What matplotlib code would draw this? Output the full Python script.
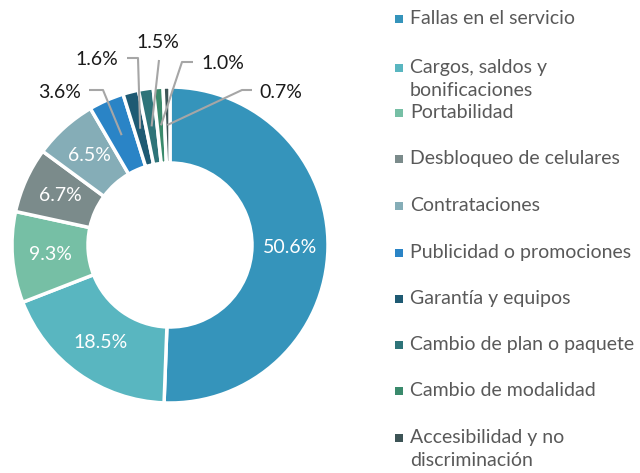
import matplotlib.pyplot as plt
import numpy as np

plt.rcParams['font.family'] = ['Lato', 'DejaVu Sans']

categories = ["Fallas en el servicio", "Cargos, saldos y\nbonificaciones", "Portabilidad",
              "Desbloqueo de celulares", "Contrataciones", "Publicidad o promociones",
              "Garantía y equipos", "Cambio de plan o paquete", "Cambio de modalidad",
              "Accesibilidad y no\ndiscriminación"]
values = [50.6, 18.5, 9.3, 6.7, 6.5, 3.6, 1.6, 1.5, 1.0, 0.7]
colors = ["#3594bb", "#59b6c0", "#76bfa5", "#7b8b8b", "#85adb7",
          "#2a84c6", "#1e5a73", "#2e7479", "#3a8a6c", "#3d5456"]

W, H = 640, 473
fig = plt.figure(figsize=(W / 100, H / 100), dpi=100)
ax = fig.add_axes([0, 0, 1, 1])


def py(y):  # pixel row -> data y
    return H - y


cx, cy = 170, py(245)
r_out, r_in = 158, 82

wedges, _ = ax.pie(values, colors=colors, startangle=90, counterclock=False,
                   radius=r_out, center=(cx, cy),
                   wedgeprops=dict(width=r_out - r_in, edgecolor="white", linewidth=2.5))

ax.set_xlim(0, W)
ax.set_ylim(0, H)
ax.set_aspect("equal")
ax.axis("off")

# label positions for the small slices (text x, text y, line start x, elbow x)
outside = {
    5: (60, 92, 89, 103),
    6: (97, 60, 127, 138),
    7: (158, 43, 159, None),
    8: (223, 64, 193, 182),
    9: (281, 92, 252, 242),
}

r_mid = (r_out + r_in) / 2
for i, w in enumerate(wedges):
    ang = np.deg2rad((w.theta1 + w.theta2) / 2)
    ax_, ay_ = cx + r_mid * np.cos(ang), cy + r_mid * np.sin(ang)
    lab = f"{values[i]:.1f}%"
    if i in outside:
        tx, ty, lx, ex = outside[i]
        ax.text(tx, py(ty), lab, ha="center", va="center", fontsize=14, color="#1a1a1a")
        if ex is None:
            xs, ys = [lx, ax_], [py(ty + 17), ay_]
        else:
            ly = ty - 2
            xs, ys = [lx, ex, ax_], [py(ly), py(ly), ay_]
        ax.plot(xs, ys, color="#a6a6a6", lw=1.5, solid_capstyle="butt")
    else:
        ax.text(ax_, ay_, lab, ha="center", va="center", fontsize=14, color="white")

# legend (row centres in pixels)
leg_y = [19, 68, 113, 159, 206, 253, 299, 345, 391, 438]
for c, col, ly in zip(categories, colors, leg_y):
    ax.scatter([399], [py(ly)], marker="s", s=32, color=col, linewidths=0)
    ax.text(410, py(ly - 9), c, ha="left", va="top", fontsize=14, color="#595959",
            linespacing=1.42)

fig.savefig("out.png", dpi=100)
